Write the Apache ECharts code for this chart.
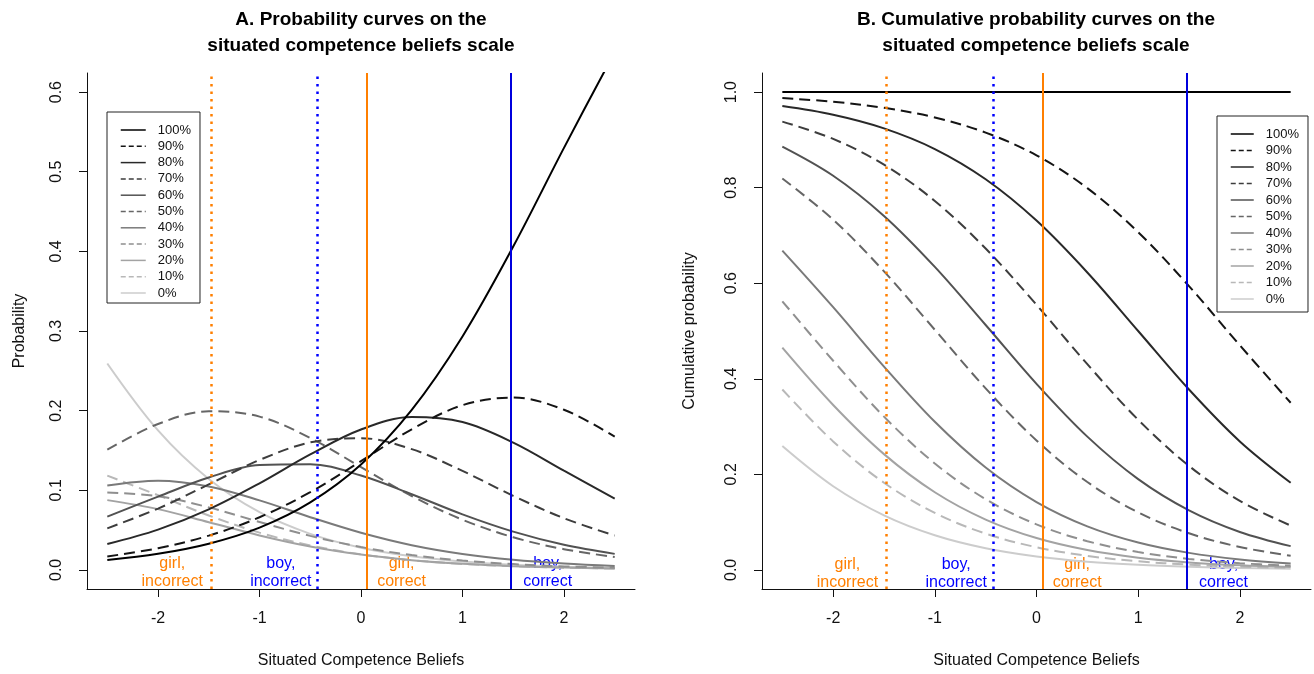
<!DOCTYPE html>
<html>
<head>
<meta charset="utf-8">
<script src="https://cdn.jsdelivr.net/npm/echarts@6/dist/echarts.min.js"></script>
<style>
html,body{margin:0;padding:0;background:#fff;}
#chart{width:1314px;height:674px;}
</style>
</head>
<body>
<div id="chart"></div>
<script>
// ---------------- DATA ----------------
const xVals = [-2.5, -2, -1.5, -1, -0.5, 0, 0.5, 1, 1.5, 2, 2.5];
const levels = ['100%', '90%', '80%', '70%', '60%', '50%', '40%', '30%', '20%', '10%', '0%'];

// Panel A: probability curves
const probA100 = [0.0124, 0.0202, 0.0329, 0.0531, 0.0848, 0.1324, 0.2010, 0.2932, 0.4061, 0.5300, 0.6502];
const probA90  = [0.0169, 0.0272, 0.0430, 0.0661, 0.0976, 0.1365, 0.1765, 0.2068, 0.2164, 0.2011, 0.1674];
const probA80  = [0.0325, 0.0506, 0.0760, 0.1087, 0.1450, 0.1763, 0.1920, 0.1857, 0.1599, 0.1246, 0.0896];
const probA70  = [0.0522, 0.0770, 0.1073, 0.1380, 0.1601, 0.1654, 0.1516, 0.1243, 0.0930, 0.0649, 0.0431];
const probA60  = [0.0669, 0.0920, 0.1160, 0.1316, 0.1326, 0.1185, 0.0950, 0.0697, 0.0480, 0.0315, 0.0201];
const probA50  = [0.1509, 0.1832, 0.1992, 0.1925, 0.1657, 0.1290, 0.0928, 0.0630, 0.0410, 0.0260, 0.0162];
const probA40  = [0.1060, 0.1120, 0.1048, 0.0873, 0.0662, 0.0466, 0.0310, 0.0200, 0.0126, 0.0079, 0.0048];
const probA30  = [0.0971, 0.0926, 0.0785, 0.0602, 0.0427, 0.0287, 0.0186, 0.0117, 0.0073, 0.0044, 0.0028];
const probA20  = [0.0876, 0.0763, 0.0599, 0.0433, 0.0294, 0.0192, 0.0122, 0.0076, 0.0047, 0.0029, 0.0017];
const probA10  = [0.1183, 0.0938, 0.0683, 0.0468, 0.0307, 0.0195, 0.0122, 0.0075, 0.0046, 0.0028, 0.0017];
const probA0   = [0.2592, 0.1751, 0.1141, 0.0724, 0.0452, 0.0279, 0.0171, 0.0105, 0.0064, 0.0039, 0.0024];

// Panel B: cumulative probability curves
const cumB100 = [1, 1, 1, 1, 1, 1, 1, 1, 1, 1, 1];
const cumB90  = [0.9876, 0.9798, 0.9671, 0.9469, 0.9152, 0.8676, 0.7990, 0.7068, 0.5939, 0.4700, 0.3498];
const cumB80  = [0.9707, 0.9526, 0.9241, 0.8808, 0.8176, 0.7311, 0.6225, 0.5000, 0.3775, 0.2689, 0.1824];
const cumB70  = [0.9382, 0.9020, 0.8481, 0.7721, 0.6726, 0.5548, 0.4305, 0.3143, 0.2176, 0.1443, 0.0928];
const cumB60  = [0.8860, 0.8250, 0.7408, 0.6341, 0.5125, 0.3894, 0.2789, 0.1900, 0.1246, 0.0794, 0.0497];
const cumB50  = [0.8191, 0.7330, 0.6248, 0.5025, 0.3799, 0.2709, 0.1839, 0.1203, 0.0766, 0.0479, 0.0296];
const cumB40  = [0.6682, 0.5498, 0.4256, 0.3100, 0.2142, 0.1419, 0.0911, 0.0573, 0.0356, 0.0219, 0.0134];
const cumB30  = [0.5622, 0.4378, 0.3208, 0.2227, 0.1480, 0.0953, 0.0601, 0.0373, 0.0230, 0.0140, 0.0086];
const cumB20  = [0.4651, 0.3452, 0.2423, 0.1625, 0.1053, 0.0666, 0.0415, 0.0256, 0.0157, 0.0096, 0.0058];
const cumB10  = [0.3775, 0.2689, 0.1824, 0.1192, 0.0759, 0.0474, 0.0293, 0.0180, 0.0110, 0.0067, 0.0041];
const cumB0   = [0.2592, 0.1751, 0.1141, 0.0724, 0.0452, 0.0279, 0.0171, 0.0105, 0.0064, 0.0039, 0.0024];

// Reference lines (x positions) and their labels
const refX      = [-1.48, -0.43, 0.06, 1.48];
const refLabels = ['girl,\nincorrect', 'boy,\nincorrect', 'girl,\ncorrect', 'boy,\ncorrect'];
const labelX    = [-1.86, -0.79, 0.40, 1.84];

// Tick labels
const xTicks  = [-2, -1, 0, 1, 2];
const yTicksA = [0, 0.1, 0.2, 0.3, 0.4, 0.5, 0.6];
const yTicksB = [0, 0.2, 0.4, 0.6, 0.8, 1.0];

// ---------------- STYLE ----------------
const FONT = '"Liberation Sans", Arial, sans-serif';
const probA = [probA100, probA90, probA80, probA70, probA60, probA50, probA40, probA30, probA20, probA10, probA0];
const cumB  = [cumB100, cumB90, cumB80, cumB70, cumB60, cumB50, cumB40, cumB30, cumB20, cumB10, cumB0];
const grays = ['#000000', '#141414', '#292929', '#3d3d3d', '#525252', '#666666', '#7a7a7a', '#8f8f8f', '#a3a3a3', '#b8b8b8', '#cccccc'];
const DASH = [11, 6];
const ORANGE = '#ff7f00';
const BLUE_DOT = '#0000ff';
const BLUE = '#0000dd';
const refStyles = [
  {color: ORANGE, type: [2.5, 5], width: 2.5},
  {color: BLUE_DOT, type: [2.5, 5], width: 2.5},
  {color: ORANGE, type: 'solid', width: 2},
  {color: BLUE, type: 'solid', width: 2}
];
const labelColors = [ORANGE, BLUE_DOT, ORANGE, BLUE_DOT];

function makeAxes(idx, yMin, yMax, yTicks, yName, yNameGap) {
  const axisCommon = {
    axisLine: {show: true, onZero: false, lineStyle: {color: '#111', width: 1}},
    axisTick: {show: true, length: 8, lineStyle: {color: '#111', width: 1}},
    splitLine: {show: false},
    nameTextStyle: {fontFamily: FONT, fontSize: 16, color: '#111'}
  };
  const x = Object.assign({}, axisCommon, {
    type: 'value', gridIndex: idx, min: -2.7, max: 2.7,
    name: 'Situated Competence Beliefs', nameLocation: 'middle', nameGap: 64,
    axisTick: Object.assign({}, axisCommon.axisTick, {customValues: xTicks}),
    axisLabel: {customValues: xTicks, fontFamily: FONT, fontSize: 16, color: '#111', margin: 22,
                formatter: v => String(v)}
  });
  const y = Object.assign({}, axisCommon, {
    type: 'value', gridIndex: idx, min: yMin, max: yMax,
    name: yName, nameLocation: 'middle', nameGap: yNameGap, nameRotate: 90,
    axisTick: Object.assign({}, axisCommon.axisTick, {customValues: yTicks}),
    axisLabel: {customValues: yTicks, rotate: 90, fontFamily: FONT, fontSize: 16, color: '#111', margin: 22,
                formatter: v => v.toFixed(1)}
  });
  return [x, y];
}

const [xA, yA] = makeAxes(0, -0.024, 0.624, yTicksA, 'Probability', 59);
const [xB, yB] = makeAxes(1, -0.04, 1.04, yTicksB, 'Cumulative probability', 64);

const series = [];
function addPanel(idx, arrays, labelY) {
  // labels (drawn beneath the curves)
  series.push({
    type: 'scatter', xAxisIndex: idx, yAxisIndex: idx, z: 1, silent: true,
    symbolSize: 1, itemStyle: {color: '#ffffff', opacity: 1},
    data: refLabels.map((t, i) => ({
      name: t, value: [labelX[i], labelY],
      label: {color: labelColors[i]}
    })),
    label: {show: true, position: 'inside', formatter: p => p.name,
            fontFamily: FONT, fontSize: 16, lineHeight: 18, align: 'center', verticalAlign: 'middle',
            textBorderWidth: 0, textBorderColor: 'transparent', textShadowBlur: 0}
  });
  // reference vertical lines
  series.push({
    type: 'line', xAxisIndex: idx, yAxisIndex: idx, z: 2, data: [], silent: true,
    markLine: {
      symbol: ['none', 'none'], silent: true, label: {show: false},
      animation: false,
      data: refX.map((v, i) => ({xAxis: v, lineStyle: refStyles[i]}))
    }
  });
  // curves, lightest first so darker ones sit on top
  for (let i = levels.length - 1; i >= 0; i--) {
    series.push({
      type: 'line', name: levels[i], xAxisIndex: idx, yAxisIndex: idx, z: 3,
      smooth: 0.35, symbol: 'none', showSymbol: false, clip: true,
      lineStyle: {color: grays[i], width: 2, type: i % 2 === 1 ? DASH : 'solid'},
      itemStyle: {color: grays[i]},
      data: xVals.map((x, j) => [x, arrays[i][j]])
    });
  }
}
addPanel(0, probA, -0.004);
addPanel(1, cumB, -0.007);

function legendFor(left, top, itemWidth, itemGap, pad) {
  return {
    orient: 'vertical', left: left, top: top,
    itemWidth: itemWidth, itemHeight: 14, itemGap: itemGap,
    borderColor: '#222', borderWidth: 1, borderRadius: 0, padding: pad,
    selectedMode: false, backgroundColor: '#fff',
    itemStyle: {color: 'rgba(0,0,0,0)', opacity: 0, borderWidth: 0},
    textStyle: {fontFamily: FONT, fontSize: 13, color: '#111', lineHeight: 14, padding: [0, 0, 0, 7]},
    data: levels.map((n, i) => ({
      name: n,
      itemStyle: {color: 'rgba(0,0,0,0)', opacity: 0, borderWidth: 0},
      lineStyle: {color: grays[i], width: 1.5, opacity: 1, type: i % 2 === 1 ? [5, 3] : 'solid'}
    }))
  };
}

const option = {
  animation: false,
  backgroundColor: '#ffffff',
  title: [
    {text: 'A. Probability curves on the\nsituated competence beliefs scale', left: 361, top: 7,
     textAlign: 'center', padding: 0,
     textStyle: {fontFamily: FONT, fontSize: 19, fontWeight: 'bold', lineHeight: 26, color: '#000'}},
    {text: 'B. Cumulative probability curves on the\nsituated competence beliefs scale', left: 1036, top: 7,
     textAlign: 'center', padding: 0,
     textStyle: {fontFamily: FONT, fontSize: 19, fontWeight: 'bold', lineHeight: 26, color: '#000'}}
  ],
  legend: [
    legendFor(107, 112, 25, 2.3, [11, 9, 3, 13]),
    legendFor(1217, 116, 23, 2.5, [11, 9, 6, 13])
  ],
  grid: [
    {left: 87, top: 73, width: 548, height: 518},
    {left: 762, top: 73, width: 549, height: 518}
  ],
  xAxis: [xA, xB],
  yAxis: [yA, yB],
  series: series
};

const chart = echarts.init(document.getElementById('chart'), null, {renderer: 'canvas'});
chart.setOption(option);
</script>
</body>
</html>
